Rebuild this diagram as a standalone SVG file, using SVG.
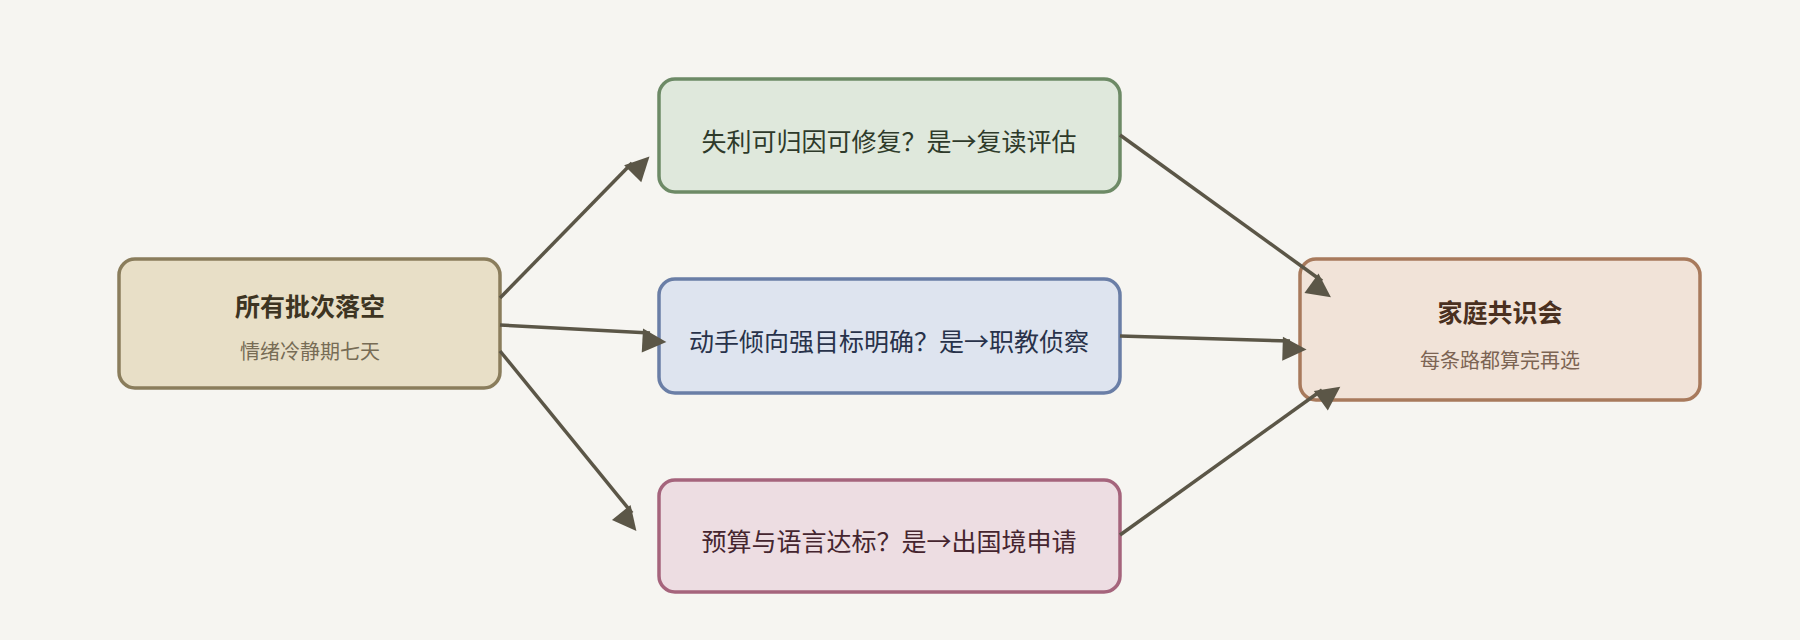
<svg xmlns="http://www.w3.org/2000/svg" width="1800" height="640" viewBox="0 0 1800 640">
<style>
text{font-family:"Noto Sans CJK SC","Noto Sans",sans-serif;text-anchor:middle;dominant-baseline:central}
.t{font-size:25px}
.b{font-size:25px;font-weight:bold}
.s{font-size:20px}
.e{stroke:#5b5647;stroke-width:3.5;fill:none;marker-end:url(#a)}
</style>
<defs><marker id="a" viewBox="0 0 10 10" refX="9" refY="5" markerWidth="8" markerHeight="8" markerUnits="userSpaceOnUse" orient="auto" style="overflow:visible"><path d="M0,0L10,5L0,10z" fill="#5b5647" transform="scale(3)"/></marker></defs>
<rect width="1800" height="640" fill="#f6f5f1"/>
<g id="start"><rect x="119" y="259" width="381" height="129" rx="16" fill="#e8dfc7" stroke="#8a7d5c" stroke-width="3.5"/><text class="b" x="310" y="305" fill="#3d3422">所有批次落空</text><text class="s" x="310" y="350" fill="#776c55">情绪冷静期七天</text></g>
<g id="n1"><rect x="659" y="79" width="461" height="113" rx="16" fill="#dfe8dc" stroke="#6d8a66" stroke-width="3.5"/><text class="t" x="889" y="140" fill="#2e3a2a">失利可归因可修复？是→复读评估</text></g>
<g id="n2"><rect x="659" y="279" width="461" height="114" rx="16" fill="#dee4ef" stroke="#6a7ea6" stroke-width="3.5"/><text class="t" x="889" y="340" fill="#28324a">动手倾向强目标明确？是→职教侦察</text></g>
<g id="n3"><rect x="659" y="480" width="461" height="112" rx="16" fill="#eddde2" stroke="#a5647c" stroke-width="3.5"/><text class="t" x="889" y="540" fill="#45252f">预算与语言达标？是→出国境申请</text></g>
<g id="end"><rect x="1300" y="259" width="400" height="141" rx="16" fill="#f1e3d8" stroke="#a87a5c" stroke-width="3.5"/><text class="b" x="1500" y="311" fill="#4a3020">家庭共识会</text><text class="s" x="1500" y="359" fill="#7c6453">每条路都算完再选</text></g>
<g id="edges">
<line class="e" x1="500" y1="298" x2="632" y2="163"/>
<line class="e" x1="500" y1="325" x2="650" y2="333"/>
<line class="e" x1="500" y1="351" x2="632" y2="513"/>
<line class="e" x1="1120" y1="135" x2="1322" y2="281"/>
<line class="e" x1="1120" y1="336" x2="1290" y2="341"/>
<line class="e" x1="1120" y1="535" x2="1322" y2="390"/>
</g>
</svg>
